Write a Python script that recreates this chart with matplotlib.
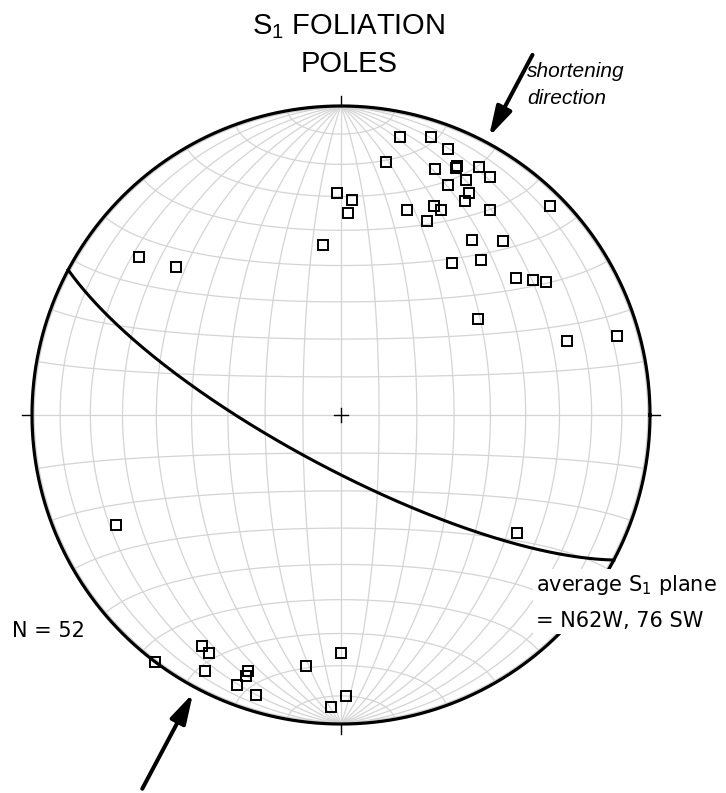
import numpy as np
import matplotlib.pyplot as plt

plt.rcParams['mathtext.fontset'] = 'custom'
plt.rcParams['mathtext.rm'] = 'Liberation Sans'
plt.rcParams['mathtext.sf'] = 'DejaVu Sans'

# Poles to S1 foliation (trend, plunge in degrees), lower hemisphere
pole_trend = [12, 18, 22, 10, 25, 25, 29, 21, 32, 28, 25, 30, 30, 359, 3, 2,
              18, 24, 26, 24, 36, 45, 37, 43, 36, 42, 52, 55, 57, 55, 72, 74,
              354, 308, 312, 244, 217, 211, 209, 208, 200, 200, 201, 197, 188,
              180, 179, 182, 124, 25, 200, 24]
pole_plunge = [9, 6, 8, 18, 12, 13, 9, 16, 10, 15, 19, 18, 21, 29, 31, 35,
               31, 27, 27, 32, 19, 5, 30, 24, 39, 33, 29, 25, 22, 45, 24, 8,
               44, 18, 29, 20, 0, 14, 13, 7, 11, 13, 7, 6, 19, 24, 10, 6, 32,
               12, 11, 27]

# Average S1 plane: N62W, 76 SW
plane_strike = 298
plane_dip = 76
plane_dipdir = plane_strike - 90


def project(e, n, d):
    # Schmidt (equal-area) projection, primitive radius = 1
    k = 1.0 / np.sqrt(1.0 + d)
    return e * k, n * k


def line_vec(trend, plunge):
    t = np.radians(trend)
    p = np.radians(plunge)
    return np.cos(p) * np.sin(t), np.cos(p) * np.cos(t), np.sin(p)


fig = plt.figure(figsize=(7.26, 7.93), dpi=100)
ax = fig.add_axes([0, 0, 1, 1])
ax.set_xlim(-1.1036, 1.2460)
ax.set_ylim(-1.2233, 1.3430)
ax.axis('off')

grid = '#d4d4d4'
# great circles through N and S
t = np.radians(np.linspace(-90, 90, 361))
for b in range(10, 180, 10):
    beta = np.radians(b)
    gx, gy = project(np.cos(t) * np.cos(beta), np.sin(t), np.cos(t) * np.sin(beta))
    ax.plot(gx, gy, color=grid, lw=0.9, zorder=1)
# small circles about the N-S axis
s = np.radians(np.linspace(0, 180, 361))
for a in range(10, 180, 10):
    al = np.radians(a)
    sx, sy = project(np.sin(al) * np.cos(s), np.full_like(s, np.cos(al)), np.sin(al) * np.sin(s))
    ax.plot(sx, sy, color=grid, lw=0.9, zorder=1)

# primitive circle
c = np.radians(np.linspace(0, 360, 721))
ax.plot(np.cos(c) * 0.993, np.sin(c) * 0.993, color=grid, lw=0.9, zorder=1)
ax.plot(np.cos(c), np.sin(c), color='k', lw=2.3, zorder=3)

# ticks at N, S, E, W and center cross
tk = 0.032
ax.plot([0, 0], [1, 1 + tk], color='k', lw=1, zorder=3)
ax.plot([0, 0], [-1, -1 - tk], color='k', lw=1, zorder=3)
ax.plot([-1 - tk, -1], [0, 0], color='k', lw=1, zorder=3)
ax.plot([1, 1 + tk], [0, 0], color='k', lw=1, zorder=3)
cc = 0.024
ax.plot([-cc, cc], [0, 0], color='k', lw=1, zorder=3)
ax.plot([0, 0], [-cc, cc], color='k', lw=1, zorder=3)

# average plane as a great circle
st = np.radians(plane_strike)
dd = np.radians(plane_dipdir)
dp = np.radians(plane_dip)
sv = np.array([np.sin(st), np.cos(st), 0.0])
dv = np.array([np.sin(dd) * np.cos(dp), np.cos(dd) * np.cos(dp), np.sin(dp)])
u = np.radians(np.linspace(0, 180, 181))
v = np.outer(np.cos(u), sv) + np.outer(np.sin(u), dv)
px, py = project(v[:, 0], v[:, 1], v[:, 2])
ax.plot(px, py, color='k', lw=2.2, zorder=3)

# poles
e, n, d = line_vec(np.array(pole_trend), np.array(pole_plunge))
qx, qy = project(e, n, d)
ax.plot(qx, qy, 's', ms=6.6, mfc='none', mec='k', mew=1.4, zorder=4)

# shortening direction arrows, along the trend of the mean pole
short_trend = plane_dipdir - 180
for az, r0, r1 in [(short_trend, 1.32, 1.02), (short_trend + 180, 1.37, 1.02)]:
    a = np.radians(az)
    ax.annotate('', xy=(r1 * np.sin(a), r1 * np.cos(a)),
                xytext=(r0 * np.sin(a), r0 * np.cos(a)),
                arrowprops=dict(arrowstyle='-|>,head_length=0.9,head_width=0.25',
                                mutation_scale=20, lw=2.9, color='k',
                                shrinkA=0, shrinkB=0),
                zorder=5)

# text
ax.text(0.026, 1.233, r'S$_\mathrm{1}$ FOLIATION', ha='center', va='baseline',
        family='Liberation Sans', fontsize=21)
ax.text(0.026, 1.110, 'POLES', ha='center', va='baseline',
        family='Liberation Sans', fontsize=21)
ax.text(0.602, 1.094, 'shortening', ha='left', va='baseline',
        family='Liberation Sans', style='italic', fontsize=15)
ax.text(0.602, 1.006, 'direction', ha='left', va='baseline',
        family='Liberation Sans', style='italic', fontsize=15)
ax.text(0.631, -0.686, 'average S$_\\mathsf{1}$ plane\n= N62W, 76 SW', ha='left',
        va='baseline', family='DejaVu Sans', fontsize=15, linespacing=1.85,
        bbox=dict(facecolor='white', edgecolor='none', pad=2), zorder=6)
ax.text(-1.065, -0.718, f'N = {len(pole_trend)}', ha='left', va='baseline',
        family='DejaVu Sans', fontsize=15)

fig.savefig('out.png')
